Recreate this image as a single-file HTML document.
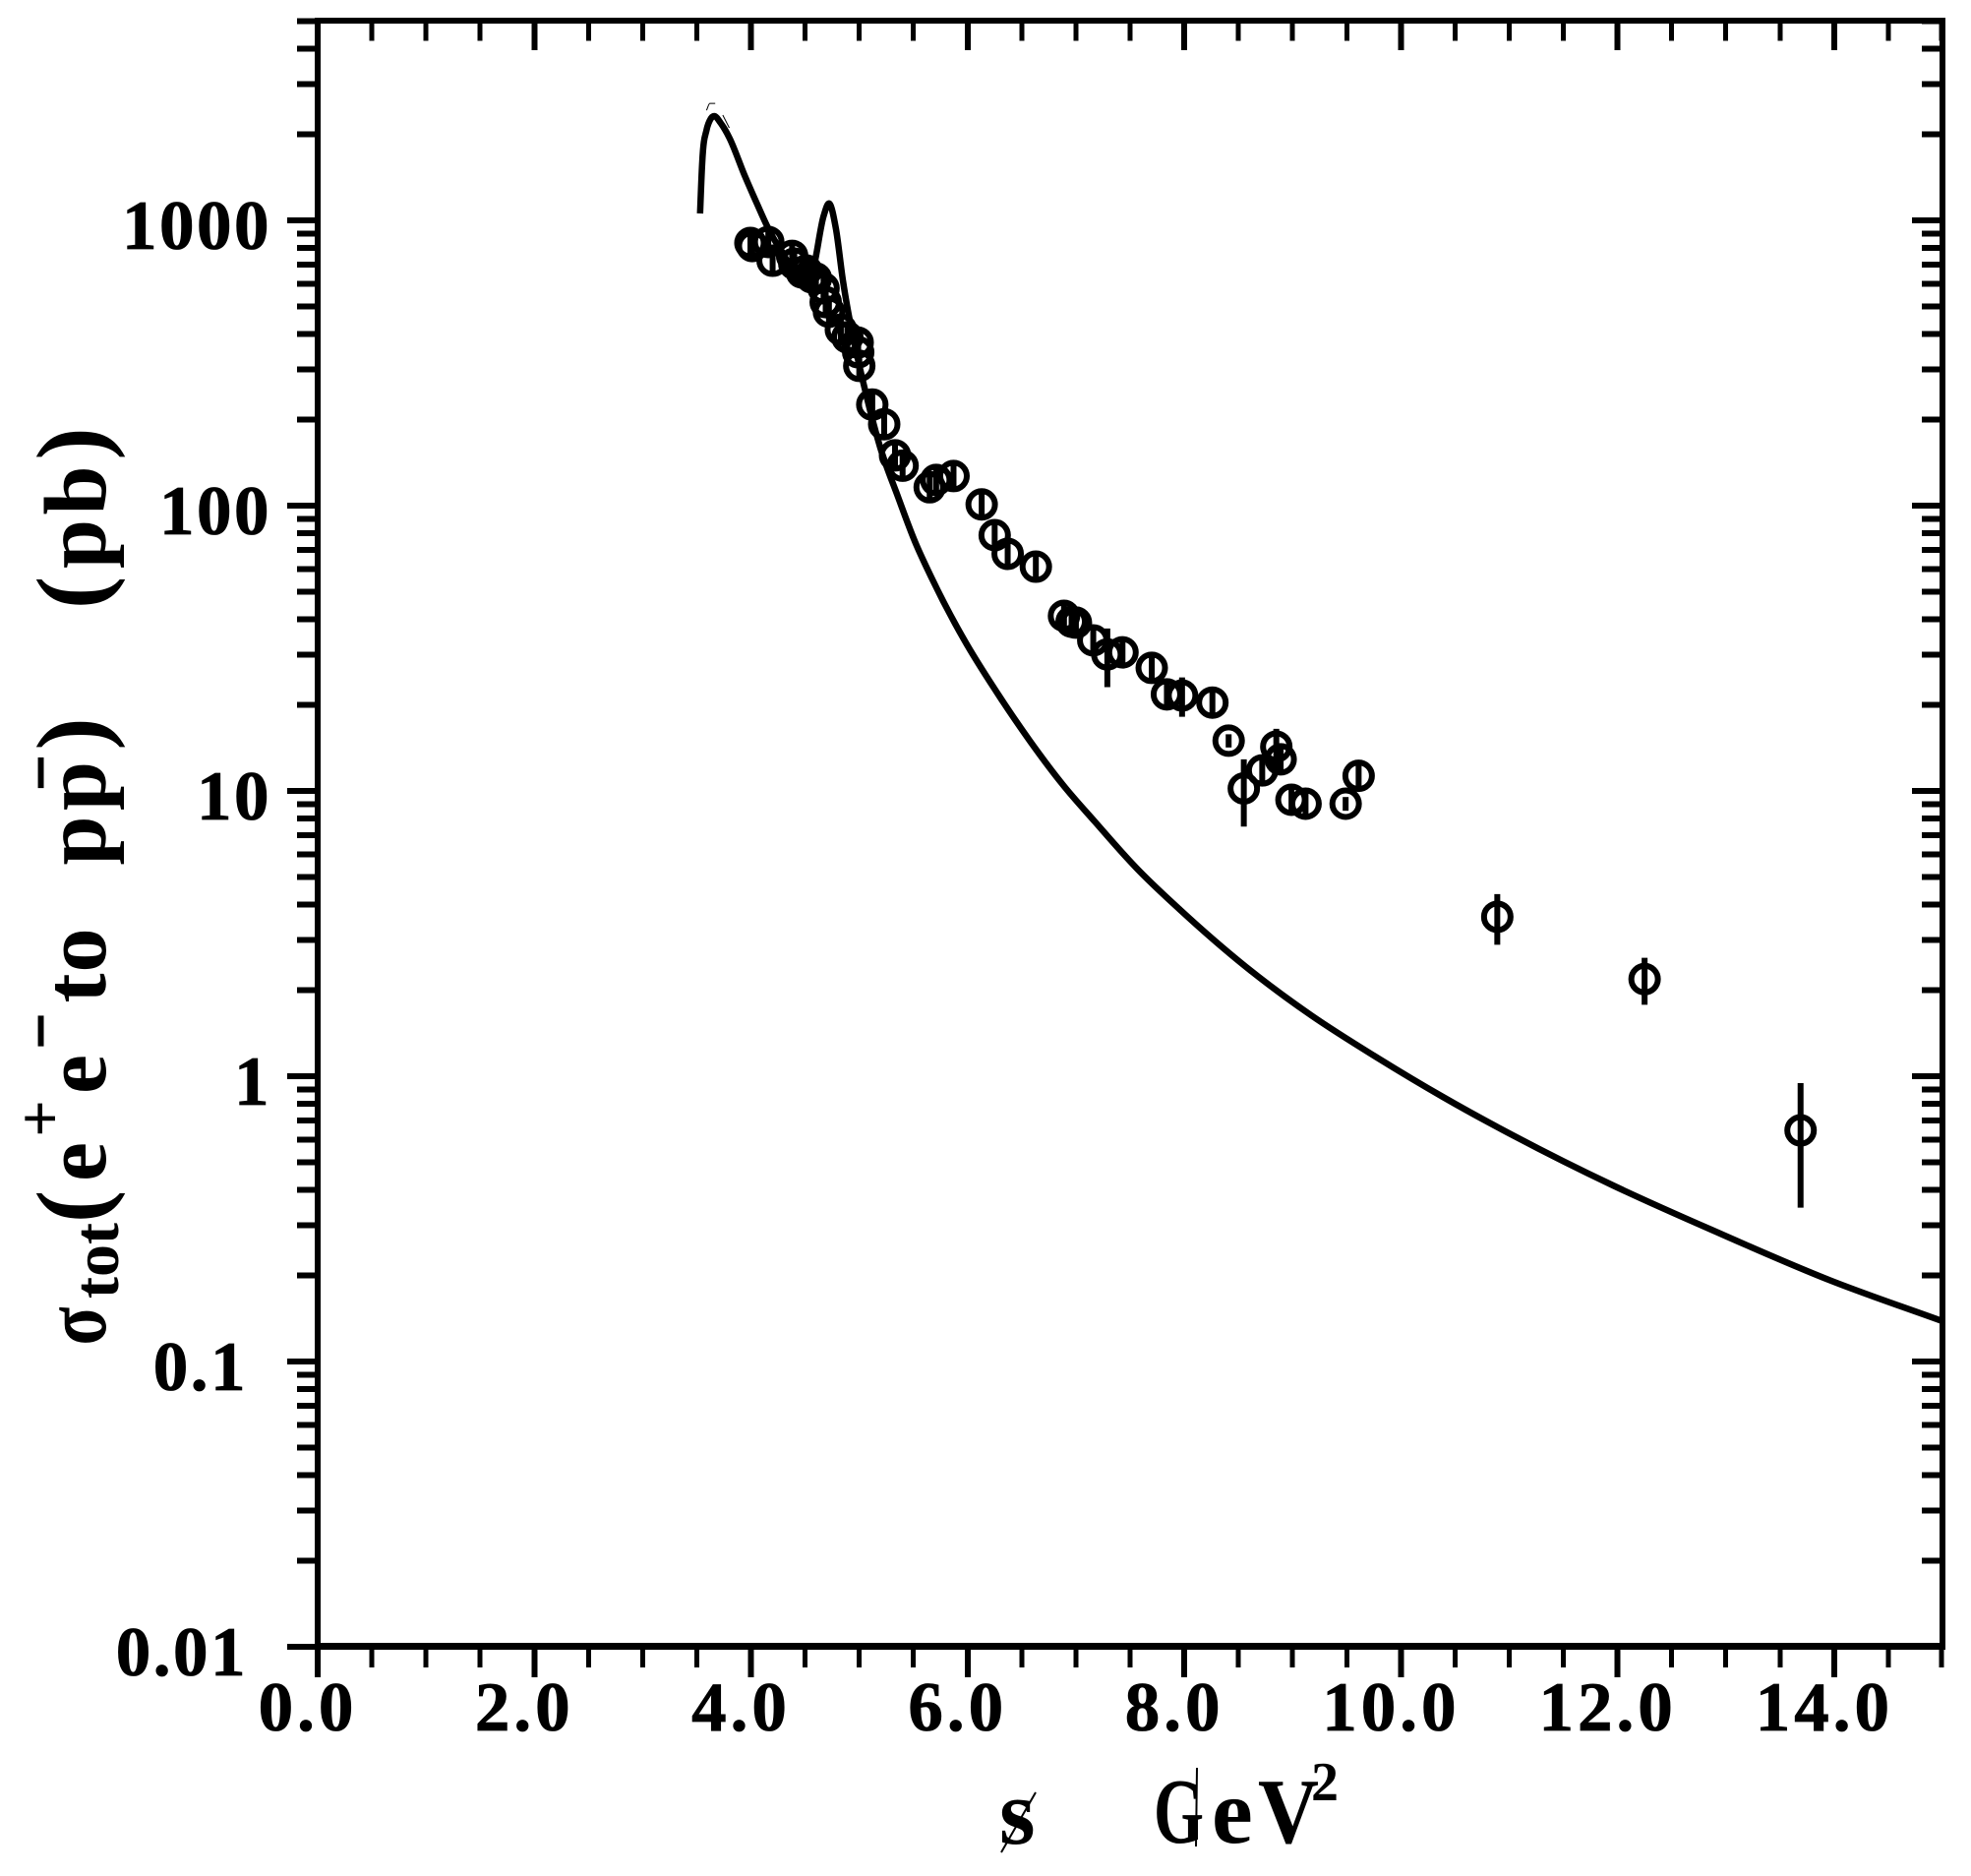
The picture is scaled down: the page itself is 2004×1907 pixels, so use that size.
<!DOCTYPE html>
<html lang="en">
<head>
<meta charset="utf-8">
<title>Total cross section e+e- to p pbar</title>
<style>
html,body{margin:0;padding:0;background:#fff;}
svg{display:block;}
text{font-family:"Liberation Serif",serif;font-weight:bold;fill:#000;}
</style>
</head>
<body>
<svg id="chart" xmlns="http://www.w3.org/2000/svg" width="2004" height="1907" viewBox="0 0 2004 1907">
  <rect x="0" y="0" width="2004" height="1907" fill="#fff"/>
  <g id="y-title" font-size="90">
    <text text-anchor="middle" transform="translate(107,1348) rotate(-90) scale(.8,1)">σ</text>
    <text text-anchor="middle" font-size="66" transform="translate(120,1281.5) rotate(-90)">tot</text>
    <text text-anchor="middle" font-size="100" transform="translate(106,1226.5) rotate(-90)">(</text>
    <text text-anchor="middle" transform="translate(107,1181) rotate(-90)">e</text>
    <text text-anchor="middle" font-size="66" transform="translate(62.5,1137) rotate(-90)">+</text>
    <text text-anchor="middle" transform="translate(107,1092) rotate(-90)">e</text>
    <text text-anchor="middle" font-size="100" transform="translate(58,1048) rotate(-90) scale(1.2,.7)">-</text>
    <text text-anchor="middle" transform="translate(107,1004.5) rotate(-90)">t</text>
    <text text-anchor="middle" transform="translate(107,966) rotate(-90)">o</text>
    <text text-anchor="middle" transform="translate(107,854.5) rotate(-90)">p</text>
    <text text-anchor="middle" transform="translate(107,799) rotate(-90)">p</text>
    <text text-anchor="middle" font-size="100" transform="translate(58,785.5) rotate(-90) scale(1.2,.7)">-</text>
    <text text-anchor="middle" font-size="100" transform="translate(106,746) rotate(-90)">)</text>
    <text text-anchor="middle" font-size="100" transform="translate(106,602.5) rotate(-90)">(</text>
    <text text-anchor="middle" transform="translate(107,553) rotate(-90)">p</text>
    <text text-anchor="middle" transform="translate(107,498.5) rotate(-90)">b</text>
    <text text-anchor="middle" font-size="100" transform="translate(106,451) rotate(-90)">)</text>
  </g>
  <g id="x-title" font-size="94">
    <text x="1016" y="1874">s</text>
    <line x1="1053" y1="1822" x2="1018" y2="1883" stroke="#000" stroke-width="2"/>
    <text x="1173" y="1873" textLength="51" lengthAdjust="spacingAndGlyphs">G</text>
    <line x1="1217" y1="1797" x2="1216" y2="1877" stroke="#000" stroke-width="2"/>
    <text x="1232" y="1873">e</text>
    <text x="1279" y="1873" textLength="62" lengthAdjust="spacingAndGlyphs">V</text>
    <text x="1333" y="1830" font-size="56">2</text>
  </g>
  <g id="plot"></g>
</svg>
<script>
// Axis tick data
const xMajorTickValues = [0, 2, 4, 6, 8, 10, 12, 14];
const xMinorTickValues = [0.5, 1, 1.5, 2.5, 3, 3.5, 4.5, 5, 5.5, 6.5, 7, 7.5, 8.5, 9, 9.5, 10.5, 11, 11.5, 12.5, 13, 13.5, 14.5, 15];
const xTickLabels = ['0.0', '2.0', '4.0', '6.0', '8.0', '10.0', '12.0', '14.0'];
const yMajorTickValues = [1000, 100, 10, 1, 0.1, 0.01];
const yTickLabels = ['1000', '100', '10', '1', '0.1', '0.01'];
const yMinorMultipliers = [2, 3, 4, 5, 6, 7, 8, 9];
const xDomain = [0, 15];
const yDomain = [0.01, 5000];

// Measured data: s (GeV^2), sigma (pb), symmetric error (pb)
const pointS = [3.995, 4.013, 4.16, 4.20, 4.38, 4.47, 4.40, 4.51, 4.56, 4.60, 4.67, 4.69, 4.72, 4.83, 4.89, 4.985, 4.99, 5.00, 5.12, 5.23, 5.33, 5.40, 5.65, 5.71, 5.87, 6.13, 6.25, 6.37, 6.63, 6.89, 6.96, 7.00, 7.16, 7.29, 7.43, 7.70, 7.84, 7.98, 8.26, 8.41, 8.55, 8.72, 8.85, 8.89, 8.99, 9.12, 9.49, 9.61, 10.89, 12.25, 13.69];
const pointSigma = [833, 813, 840, 722, 751, 657, 705, 667, 631, 626, 578, 517, 478, 414, 389, 373, 345, 309, 226, 193, 150, 138, 116, 123, 127, 101, 78.8, 67.8, 61.1, 41.1, 39.2, 38.9, 33.7, 30.1, 30.6, 27.0, 21.8, 21.6, 20.4, 15.0, 10.2, 11.8, 14.3, 12.9, 9.31, 9.02, 9.02, 11.3, 3.62, 2.19, 0.646];
const pointError = [90, 90, 90, 80, 80, 70, 75, 70, 70, 70, 60, 55, 50, 45, 42, 40, 38, 34, 25, 21, 16, 15, 13, 13, 14, 11, 9, 7.5, 6.7, 4.5, 4.3, 4.3, 3.7, 7, 3.4, 3, 2.4, 3.4, 2.2, 0.8, 2.7, 1.3, 2.2, 1.4, 1, 1, 0.5, 1.2, 0.73, 0.41, 0.3];

// Theory curve
const curveS = [3.53, 3.55, 3.59, 3.62, 3.66, 3.72, 3.80, 3.94, 4.06, 4.15, 4.26, 4.38, 4.49, 4.57, 4.67, 4.72, 4.785, 4.849, 4.894, 4.967, 5.039, 5.194, 5.357, 5.512, 5.666, 5.966, 6.265, 6.574, 6.874, 7.173, 7.555, 7.963, 8.571, 9.171, 9.779, 10.387, 11.050, 11.958, 12.866, 13.974, 15];
const curveSigma = [1057, 1597, 2075, 2240, 2321, 2195, 1950, 1442, 1135, 953, 800, 683, 616, 667, 1033, 1146, 931, 616, 485.5, 353.4, 267.7, 159.8, 107.4, 75.1, 56.0, 33.96, 22.30, 14.99, 10.57, 7.82, 5.383, 3.826, 2.415, 1.636, 1.163, 0.8465, 0.6161, 0.4142, 0.2898, 0.1918, 0.1385];

// Thin upper-edge trace above the first peak
const traceS = [3.59, 3.62, 3.67];
const traceSigma = [2432, 2570, 2570];
const traceTailS = [3.74, 3.80];
const traceTailSigma = [2339, 2109];

const NS = 'http://www.w3.org/2000/svg';
const plot = document.getElementById('plot');
const PX_LEFT = 323, PX_RIGHT = 1975, PX_BOTTOM = 1674, PX_DECADE = 290;

function xScale(v) {
  return PX_LEFT + (v - xDomain[0]) / (xDomain[1] - xDomain[0]) * (PX_RIGHT - PX_LEFT);
}
function yScale(v) {
  return PX_BOTTOM - (Math.log10(v) - Math.log10(yDomain[0])) * PX_DECADE;
}
function make(tag, attrs) {
  const el = document.createElementNS(NS, tag);
  for (const k in attrs) el.setAttribute(k, attrs[k]);
  plot.appendChild(el);
  return el;
}
function seg(x1, y1, x2, y2, w) {
  return make('line', {x1: x1, y1: y1, x2: x2, y2: y2, stroke: '#000', 'stroke-width': w, 'shape-rendering': 'crispEdges'});
}
function smoothPath(xs, ys) {
  const px = xs.map(xScale);
  const py = ys.map(yScale);
  const n = px.length;
  const slope = [];
  for (let i = 0; i < n; i++) {
    if (i === 0) { slope.push((py[1] - py[0]) / (px[1] - px[0])); continue; }
    if (i === n - 1) { slope.push((py[i] - py[i - 1]) / (px[i] - px[i - 1])); continue; }
    const h0 = px[i] - px[i - 1], h1 = px[i + 1] - px[i];
    const d0 = (py[i] - py[i - 1]) / h0, d1 = (py[i + 1] - py[i]) / h1;
    slope.push(d0 * d1 <= 0 ? 0 : (h1 * d0 + h0 * d1) / (h0 + h1));
  }
  let d = 'M' + px[0].toFixed(1) + ' ' + py[0].toFixed(1);
  for (let i = 0; i < n - 1; i++) {
    const h = (px[i + 1] - px[i]) / 3;
    d += 'C' + (px[i] + h).toFixed(1) + ' ' + (py[i] + slope[i] * h).toFixed(1) + ' ' + (px[i + 1] - h).toFixed(1) + ' ' + (py[i + 1] - slope[i + 1] * h).toFixed(1) + ' ' + px[i + 1].toFixed(1) + ' ' + py[i + 1].toFixed(1);
  }
  return d;
}

// X ticks, both bottom and top
xMajorTickValues.forEach(function (v) {
  const x = xScale(v);
  const b = seg(x, 1674, x, 1705, 6);
  
  
  const t = seg(x, 21, x, 51, 6);
  
  
});
xMinorTickValues.forEach(function (v) {
  const x = xScale(v) - (v === xDomain[1] ? 1 : 0);
  const b = seg(x, 1674, x, 1695, 5);
  
  
  const t = seg(x, 21, x, 41.5, 5);
  
  
});

// Y ticks, both left and right
yMajorTickValues.forEach(function (v) {
  const y = yScale(v);
  const l = seg(292, y, PX_LEFT, y, 6);
  
  
  const r = seg(1944, y, PX_RIGHT, y, 6);
  
  
});
yMajorTickValues.forEach(function (decade) {
  yMinorMultipliers.forEach(function (m) {
    const v = decade * m;
    if (v > yDomain[1]) return;
    const y = yScale(v);
    const l = seg(302, y, PX_LEFT, y, 6);
    
    
    const r = seg(1954, y, PX_RIGHT, y, 6);
    
    
  });
});

// Frame
const leftAxis = seg(PX_LEFT, 18, PX_LEFT, 1677, 6);


const rightAxis = seg(PX_RIGHT, 18, PX_RIGHT, 1677, 6);


const topAxis = seg(PX_LEFT, 21, PX_RIGHT + 3, 21, 6);


const bottomAxis = seg(PX_LEFT, 1673.5, PX_RIGHT + 3, 1673.5, 7);



// Tick labels
xMajorTickValues.forEach(function (v, i) {
  const t = make('text', {x: xScale(v) - 10, y: 1759, 'text-anchor': 'middle', 'font-size': 71, 'letter-spacing': 4, stroke: '#000', 'stroke-width': 0.8});
  t.textContent = xTickLabels[i];
  
  
});
yMajorTickValues.forEach(function (v, i) {
  const t = make('text', {x: v >= 1 ? 276 : 252, y: yScale(v) + 29, 'text-anchor': 'end', 'font-size': 71, 'letter-spacing': 2.5, stroke: '#000', 'stroke-width': 0.8});
  t.textContent = yTickLabels[i];
  
  
});

// Theory curve
const curve = make('path', {d: smoothPath(curveS, curveSigma), fill: 'none', stroke: '#000', 'stroke-width': 6.5, 'stroke-linejoin': 'round'});



const trace = make('path', {d: smoothPath(traceS, traceSigma), fill: 'none', stroke: '#000', 'stroke-width': 1});



const traceTail = make('path', {d: smoothPath(traceTailS, traceTailSigma), fill: 'none', stroke: '#000', 'stroke-width': 1});



// Data points with error bars
pointS.forEach(function (s, i) {
  const x = xScale(s);
  const y = yScale(pointSigma[i]);
  const hi = yScale(pointSigma[i] + pointError[i]);
  const lo = yScale(Math.max(pointSigma[i] - pointError[i], yDomain[0]));
  const bar = make('line', {x1: x, y1: hi, x2: x, y2: lo, stroke: '#000', 'stroke-width': 6});
  
  
  const c = make('circle', {cx: x, cy: y, r: 13.5, fill: 'none', stroke: '#000', 'stroke-width': 6});
  
  
});
</script>
</body>
</html>
